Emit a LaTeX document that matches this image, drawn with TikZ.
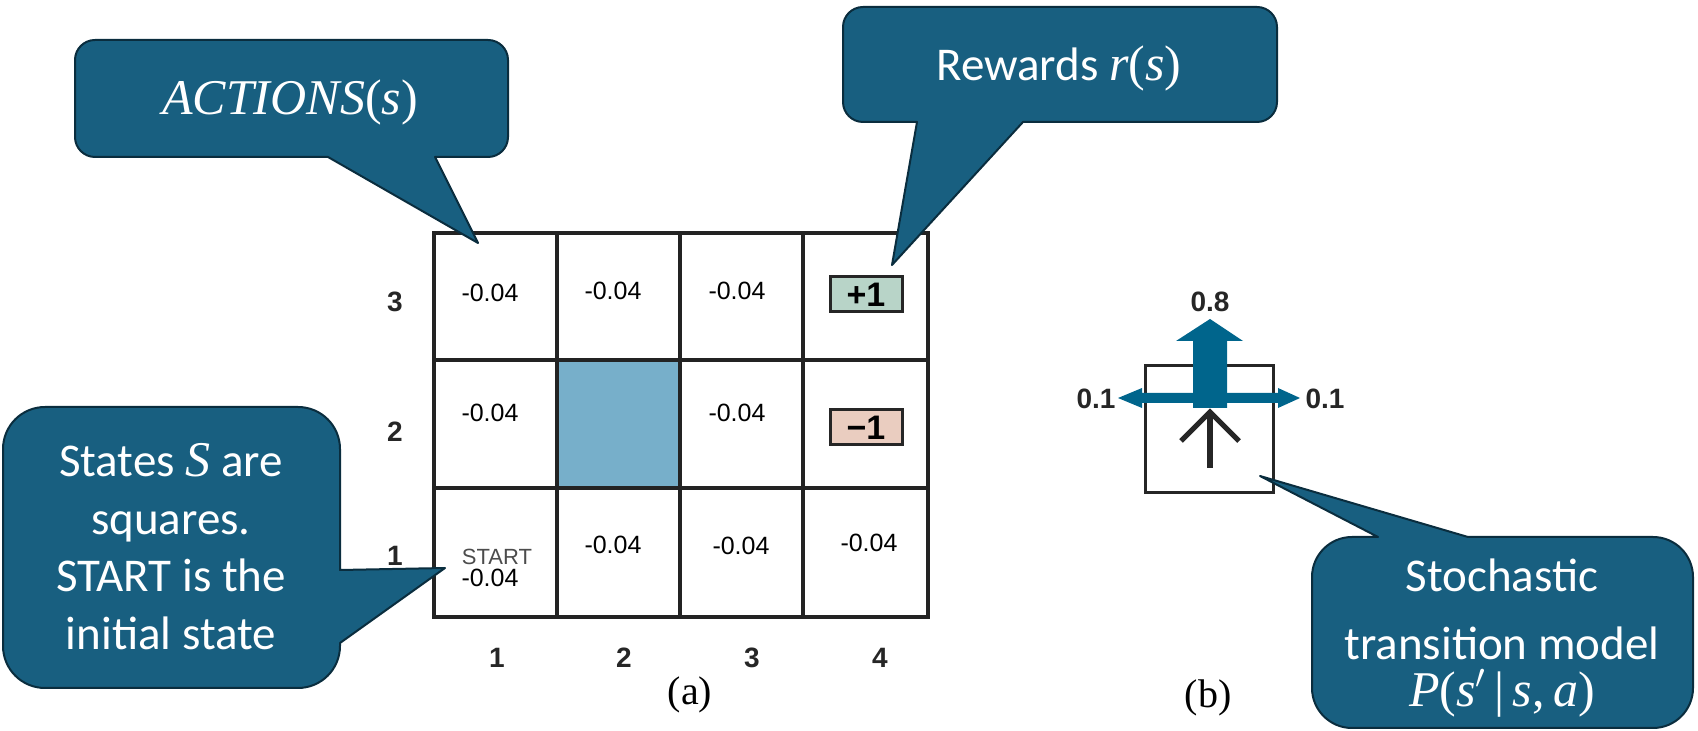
\documentclass[tikz,border=0pt]{standalone}
\usepackage{fontspec}
\setmainfont{Carlito}
\newfontfamily\arialf{Liberation Sans}
\newfontfamily\timesf{Liberation Serif}
\newcommand{\mitl}[1]{{\timesf\itshape #1}}
\newcommand{\mupr}[1]{{\timesf #1}}
\definecolor{callfill}{RGB}{24,95,128}
\definecolor{callline}{RGB}{10,45,62}
\definecolor{arrblue}{RGB}{0,101,140}
\definecolor{wallblue}{RGB}{119,175,202}
\definecolor{plusgreen}{RGB}{184,212,200}
\definecolor{minuspink}{RGB}{234,205,192}
\definecolor{gridline}{RGB}{35,35,35}
\begin{document}
\begin{tikzpicture}[x=0.5pt,y=0.5pt,
  callout/.style={fill=callfill,draw=callline,line width=1pt,line join=round},
  ctext/.style={text=white,font=\fontsize{23.5}{28}\selectfont,anchor=base,inner sep=0},
  cell/.style={font=\arialf\fontsize{12.5}{15}\selectfont,inner sep=0},
  startlbl/.style={font=\arialf\fontsize{11}{13}\selectfont,text=black!70,inner sep=0},
  axislbl/.style={font=\arialf\bfseries\fontsize{14}{16}\selectfont,text=black!85,inner sep=0},
  rewardbox/.style={draw=black!85,line width=1.5pt,minimum width=36pt,minimum height=17.5pt,inner sep=0,
     font=\arialf\bfseries\fontsize{17}{20}\selectfont},
  caption/.style={font=\timesf\fontsize{20}{24}\selectfont,inner sep=0},
  gridln/.style={draw=gridline,line width=1.7pt}]
\useasboundingbox (0,0) rectangle (1698,-731);

% ---------- grid world (a) ----------
\fill[wallblue] (557,-360) rectangle (680,-488);
\draw[gridln] (434,-233) rectangle (928,-617);
\draw[gridln] (557,-233) -- (557,-617);
\draw[gridln] (680,-233) -- (680,-617);
\draw[gridln] (803,-233) -- (803,-617);
\draw[gridln] (434,-360) -- (928,-360);
\draw[gridln] (434,-488) -- (928,-488);

\node[cell] (c13) at (490,-293) {-0.04};
\node[cell] (c23) at (613,-291) {-0.04};
\node[cell] (c33) at (737,-291) {-0.04};
\node[rewardbox,fill=plusgreen] (c43) at (866,-294.5) {+1};
\node[cell] (c12) at (490,-413) {-0.04};
\node[cell] (c32) at (737,-413) {-0.04};
\node[rewardbox,fill=minuspink] (c42) at (866,-427.5) {\textminus1};
\node[startlbl] (start) at (497,-557) {START};
\node[cell] (c11) at (490,-578) {-0.04};
\node[cell] (c21) at (613,-545) {-0.04};
\node[cell] (c31) at (741,-546) {-0.04};
\node[cell] (c41) at (869,-543) {-0.04};

\node[axislbl] (r3) at (395,-302) {3};
\node[axislbl] (r2) at (395,-432) {2};
\node[axislbl] (r1) at (395,-556) {1};
\node[axislbl] (k1) at (497,-658) {1};
\node[axislbl] (k2) at (624,-658) {2};
\node[axislbl] (k3) at (752,-658) {3};
\node[axislbl] (k4) at (880,-658) {4};
\node[caption] (capa) at (690,-695) {(a)};

% ---------- transition model (b) ----------
\draw[black!85,line width=1.5pt] (1145,-366) rectangle (1273,-493);
\fill[arrblue] (1118,-398) -- (1142,-388) -- (1142,-393) -- (1278,-393) -- (1278,-388) -- (1300,-398)
  -- (1278,-408) -- (1278,-403) -- (1142,-403) -- (1142,-408) -- cycle;
\fill[arrblue] (1210,-319) -- (1243,-341) -- (1227,-341) -- (1227,-408) -- (1193,-408) -- (1193,-341)
  -- (1176,-341) -- cycle;
\draw[black!85,line width=2.6pt] (1210,-468) -- (1210,-412);
\draw[black!85,line width=2.6pt,line join=miter] (1181,-441) -- (1210,-412) -- (1239,-441);
\node[axislbl] (p8) at (1210,-302) {0.8};
\node[axislbl] (pl) at (1096,-399) {0.1};
\node[axislbl] (pr) at (1325,-399) {0.1};
\node[caption] (capb) at (1208,-698) {(b)};

% ---------- callouts ----------
\draw[callout] (95,-40) -- (488,-40) arc[start angle=90,end angle=0,radius=20] -- (508,-137)
  arc[start angle=0,end angle=-90,radius=20] -- (435,-157) -- (478,-243) -- (328,-157) -- (95,-157)
  arc[start angle=270,end angle=180,radius=20] -- (75,-60) arc[start angle=180,end angle=90,radius=20] -- cycle;
\node[ctext,font=\fontsize{25}{30}\selectfont] (actions) at (290,-115) {\mitl{ACTIONS}\mupr{(}\mitl{s}\mupr{)}};

\draw[callout] (863,-7) -- (1257,-7) arc[start angle=90,end angle=0,radius=20] -- (1277,-102)
  arc[start angle=0,end angle=-90,radius=20] -- (1023,-122) -- (892,-265) -- (917,-122) -- (863,-122)
  arc[start angle=270,end angle=180,radius=20] -- (843,-27) arc[start angle=180,end angle=90,radius=20] -- cycle;
\node[ctext] (rewards) at (1059,-81) {Rewards {\fontsize{25}{30}\selectfont\mitl{r}\mupr{(}\mitl{s}\mupr{)}}};

\draw[callout] (45,-407) -- (298,-407) arc[start angle=90,end angle=0,radius=42] -- (340,-570)
  -- (445,-568) -- (340,-643) -- (340,-646) arc[start angle=0,end angle=-90,radius=42] -- (45,-688)
  arc[start angle=270,end angle=180,radius=42] -- (3,-449) arc[start angle=180,end angle=90,radius=42] -- cycle;
\node[ctext] (s1) at (171,-477) {States {\fontsize{25}{30}\selectfont\mitl{S}} are};
\node[ctext] (s2) at (171,-535) {squares.};
\node[ctext] (s3) at (171,-592) {START is the};
\node[ctext] (s4) at (171,-650) {initial state};

\draw[callout] (1352,-537) -- (1378,-537) -- (1260,-476) -- (1468,-537) -- (1653,-537)
  arc[start angle=90,end angle=0,radius=40] -- (1693,-688) arc[start angle=0,end angle=-90,radius=40]
  -- (1352,-728) arc[start angle=270,end angle=180,radius=40] -- (1312,-577)
  arc[start angle=180,end angle=90,radius=40] -- cycle;
\node[ctext] (t1) at (1502,-592) {Stochastic};
\node[ctext] (t2) at (1502,-660) {transition model};
\node[ctext,font=\fontsize{25}{30}\selectfont] (t3) at (1502,-707)
  {\mitl{P}\mupr{(}\mitl{s}$'$\,\mupr{|}\,\mitl{s}\mupr{,}\,\mitl{a}\mupr{)}};
\end{tikzpicture}
\end{document}
